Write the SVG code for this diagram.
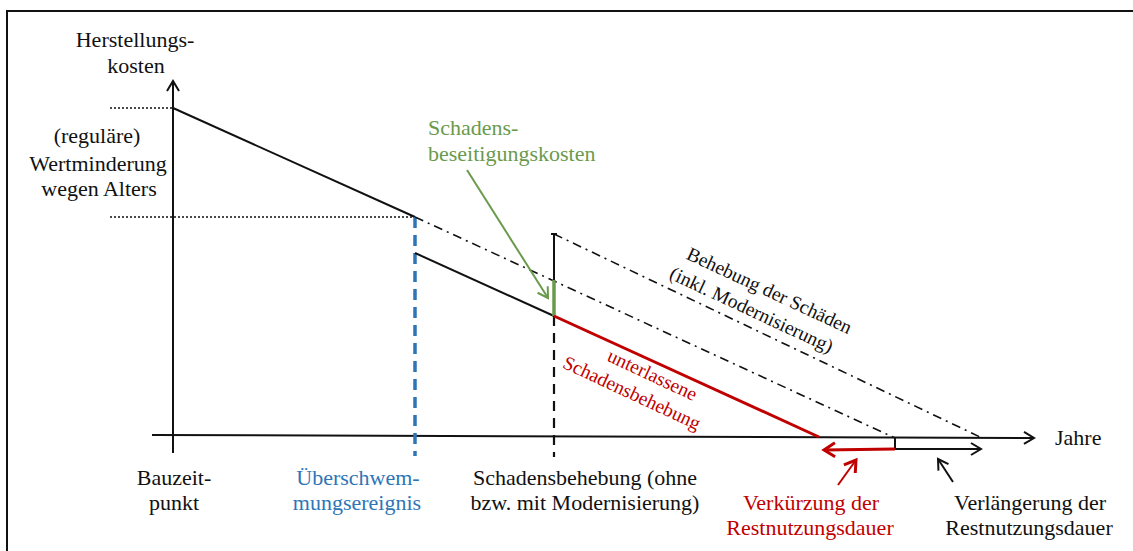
<svg xmlns="http://www.w3.org/2000/svg" width="1133" height="551" viewBox="0 0 1133 551" font-family="'Liberation Serif', Tinos, 'Times New Roman', 'DejaVu Serif', serif">
<style>
text{font-family:'Liberation Serif',Tinos,'Times New Roman','DejaVu Serif',serif;font-size:22px;fill:#111}
.c{text-anchor:middle}
.red{fill:#c00000}
.blue{fill:#2e75b6}
.green{fill:#6a9a4c}
.rot{font-size:19.5px}
.ln{stroke:#111;stroke-width:2;fill:none}
.dot{stroke:#111;stroke-width:1.6;stroke-dasharray:2 2;fill:none}
.dd{stroke:#111;stroke-width:1.6;stroke-dasharray:9 5 2 5;fill:none}
</style>
<defs>
<marker id="ab" markerUnits="userSpaceOnUse" markerWidth="16" markerHeight="16" refX="13" refY="8" orient="auto"><path d="M3,2 L13,8 L3,14" fill="none" stroke="#111" stroke-width="2"/></marker>
<marker id="ar" markerUnits="userSpaceOnUse" markerWidth="18" markerHeight="18" refX="14" refY="9" orient="auto"><path d="M3,2 L14,9 L3,16" fill="none" stroke="#c00000" stroke-width="3"/></marker>
<marker id="ag" markerUnits="userSpaceOnUse" markerWidth="16" markerHeight="16" refX="13" refY="8" orient="auto"><path d="M3,2 L13,8 L3,14" fill="none" stroke="#6a9a4c" stroke-width="2"/></marker>
</defs>
<rect width="1133" height="551" fill="#fff"/>
<path d="M7,551 L7,11 L1133,11" fill="none" stroke="#111" stroke-width="2"/>

<g id="connectors">
<line class="ln" x1="173" y1="453" x2="173" y2="81" marker-end="url(#ab)"/>
<line class="ln" x1="152" y1="435" x2="1034" y2="438" marker-end="url(#ab)"/>
<line class="dot" x1="110" y1="108" x2="173" y2="108"/>
<line class="dot" x1="110" y1="217" x2="415" y2="217"/>
<line class="ln" x1="173" y1="108" x2="415" y2="217"/>
<line x1="415" y1="217" x2="415" y2="456" stroke="#2e75b6" stroke-width="3.5" stroke-dasharray="11 7"/>
<line class="ln" x1="415" y1="253" x2="554" y2="316"/>
<line class="dd" x1="415" y1="217" x2="895" y2="438"/>
<line class="dd" x1="554" y1="234" x2="980" y2="437"/>
<line x1="554" y1="316" x2="554" y2="457" stroke="#111" stroke-width="2.2" stroke-dasharray="10 7"/>
<line class="ln" x1="554" y1="234" x2="554" y2="280"/>
<line class="ln" x1="551" y1="234" x2="557" y2="234"/>
<line x1="554" y1="280" x2="554" y2="316" stroke="#6a9a4c" stroke-width="3.5"/>
<line x1="554" y1="316" x2="819" y2="437" stroke="#c00000" stroke-width="3"/>
<line class="ln" x1="895" y1="438" x2="895" y2="449"/>
<line x1="895" y1="449" x2="824" y2="450" stroke="#c00000" stroke-width="3" marker-end="url(#ar)"/>
<line class="ln" x1="895" y1="449" x2="981" y2="449" marker-end="url(#ab)"/>
<line x1="467" y1="170" x2="548" y2="298" stroke="#6a9a4c" stroke-width="2" marker-end="url(#ag)"/>
<line x1="838" y1="485" x2="856" y2="460" stroke="#c00000" stroke-width="2" marker-end="url(#ar)"/>
<line class="ln" x1="953" y1="482" x2="938" y2="459" marker-end="url(#ab)"/>
</g>

<g id="label-herstellungskosten">
<text class="c" x="135" y="47">Herstellungs-</text>
<text class="c" x="136" y="73">kosten</text>
</g>
<g id="label-wertminderung">
<text class="c" x="97" y="143">(reguläre)</text>
<text class="c" x="98" y="171">Wertminderung</text>
<text class="c" x="99" y="196">wegen Alters</text>
</g>
<g id="label-schadensbeseitigungskosten">
<text class="green" x="428" y="135">Schadens-</text>
<text class="green" x="428" y="161">beseitigungskosten</text>
</g>
<g id="label-behebung" transform="rotate(25 765 300)">
<text class="c rot" x="765" y="296">Behebung der Schäden</text>
<text class="c rot" x="757" y="321">(inkl. Modernisierung)</text>
</g>
<g id="label-unterlassene" transform="rotate(25 640 385)">
<text class="c rot red" x="647" y="377">unterlassene</text>
<text class="c rot red" x="636" y="402">Schadensbehebung</text>
</g>
<g id="label-jahre">
<text x="1055" y="445">Jahre</text>
</g>
<g id="label-bauzeitpunkt">
<text class="c" x="174" y="485">Bauzeit-</text>
<text class="c" x="174" y="510">punkt</text>
</g>
<g id="label-ueberschwemmung">
<text class="c blue" x="358" y="485">Überschwem-</text>
<text class="c blue" x="357" y="510">mungsereignis</text>
</g>
<g id="label-schadensbehebung">
<text class="c" x="585" y="485">Schadensbehebung (ohne</text>
<text class="c" x="585" y="510">bzw. mit Modernisierung)</text>
</g>
<g id="label-verkuerzung">
<text class="c red" x="811" y="510">Verkürzung der</text>
<text class="c red" x="810" y="535">Restnutzungsdauer</text>
</g>
<g id="label-verlaengerung">
<text class="c" x="1030" y="510">Verlängerung der</text>
<text class="c" x="1029" y="535">Restnutzungsdauer</text>
</g>
</svg>
